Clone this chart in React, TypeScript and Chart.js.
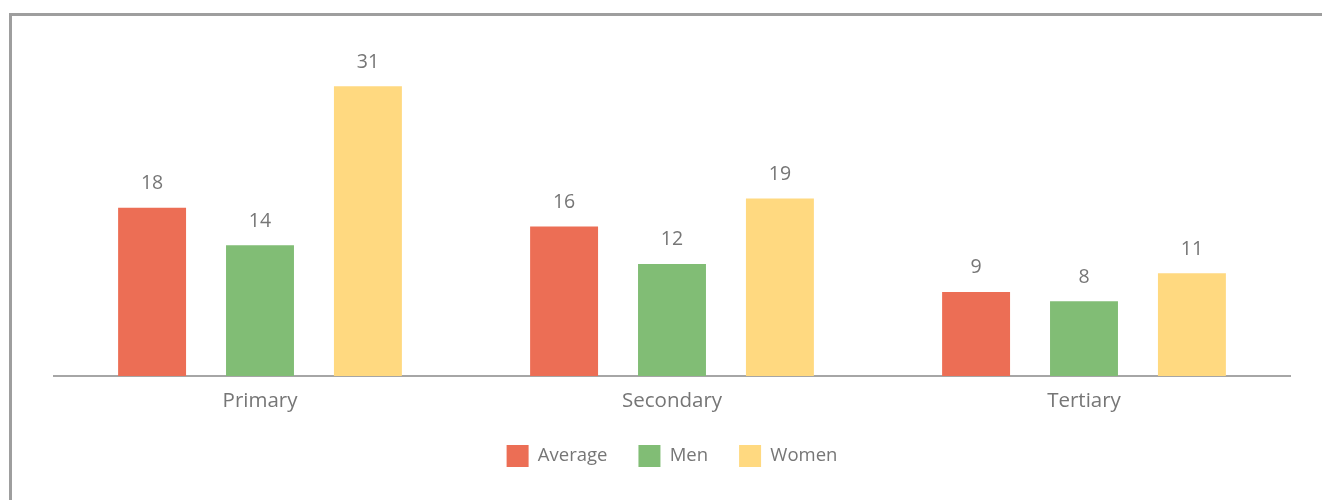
import React, { useEffect, useRef } from "react";
import { Chart, registerables } from "chart.js";

Chart.register(...registerables);

const categories = ["Primary", "Secondary", "Tertiary"];
const seriesNames = ["Average", "Men", "Women"];
const averageValues = [18, 16, 9];
const menValues = [14, 12, 8];
const womenValues = [31, 19, 11];
const seriesColors = ["#EC6E55", "#81BD75", "#FFD980"];

const TEXT_COLOR = "#767676";
const FONT = "'Open Sans', sans-serif";

const valueLabels = {
  id: "valueLabels",
  afterDatasetsDraw(chart: any) {
    const { ctx } = chart;
    ctx.save();
    ctx.font = `19.5px ${FONT}`;
    ctx.fillStyle = TEXT_COLOR;
    ctx.textAlign = "center";
    ctx.textBaseline = "middle";
    chart.data.datasets.forEach((ds: any, di: number) => {
      const meta = chart.getDatasetMeta(di);
      meta.data.forEach((bar: any, i: number) => {
        ctx.fillText(String(ds.data[i]), bar.x, bar.y - 24);
      });
    });
    ctx.restore();
  },
};

export default function App() {
  const canvasRef = useRef<HTMLCanvasElement | null>(null);

  useEffect(() => {
    if (!canvasRef.current) return;
    const values = [averageValues, menValues, womenValues];
    const chart = new Chart(canvasRef.current, {
      type: "bar",
      data: {
        labels: categories,
        datasets: seriesNames.map((name, i) => ({
          label: name,
          data: values[i],
          backgroundColor: seriesColors[i],
          borderWidth: 0,
          barPercentage: 0.6296,
          categoryPercentage: 0.7858,
        })),
      },
      options: {
        animation: false,
        responsive: false,
        maintainAspectRatio: false,
        layout: { padding: { left: 54, right: 32, top: 49, bottom: 23 } },
        plugins: {
          tooltip: { enabled: false },
          legend: {
            position: "bottom",
            labels: {
              boxWidth: 22,
              boxHeight: 22,
              padding: 31,
              color: TEXT_COLOR,
              font: { family: FONT, size: 18.5 },
            },
          },
        },
        scales: {
          x: {
            grid: { display: false, drawTicks: false },
            border: { display: true, color: "#A6A6A6", width: 2 },
            ticks: {
              color: TEXT_COLOR,
              padding: 18,
              font: { family: FONT, size: 20.5, lineHeight: "14px" },
            },
            afterFit(scale: any) {
              scale.height = 38;
            },
          },
          y: {
            display: false,
            min: 0,
            max: 35,
          },
        },
      },
      plugins: [valueLabels],
    });
    return () => chart.destroy();
  }, []);

  return (
    <div
      style={{
        position: "fixed",
        left: 0,
        top: 0,
        width: 1322,
        height: 500,
        overflow: "hidden",
        background: "#ffffff",
      }}
    >
      <div
        style={{
          position: "absolute",
          left: 9,
          top: 13,
          width: 1400,
          height: 600,
          border: "3px solid #9E9E9E",
          boxSizing: "border-box",
        }}
      />
      <canvas
        ref={canvasRef}
        width={1322}
        height={500}
        style={{ position: "absolute", left: 0, top: 0, width: 1322, height: 500 }}
      />
    </div>
  );
}
